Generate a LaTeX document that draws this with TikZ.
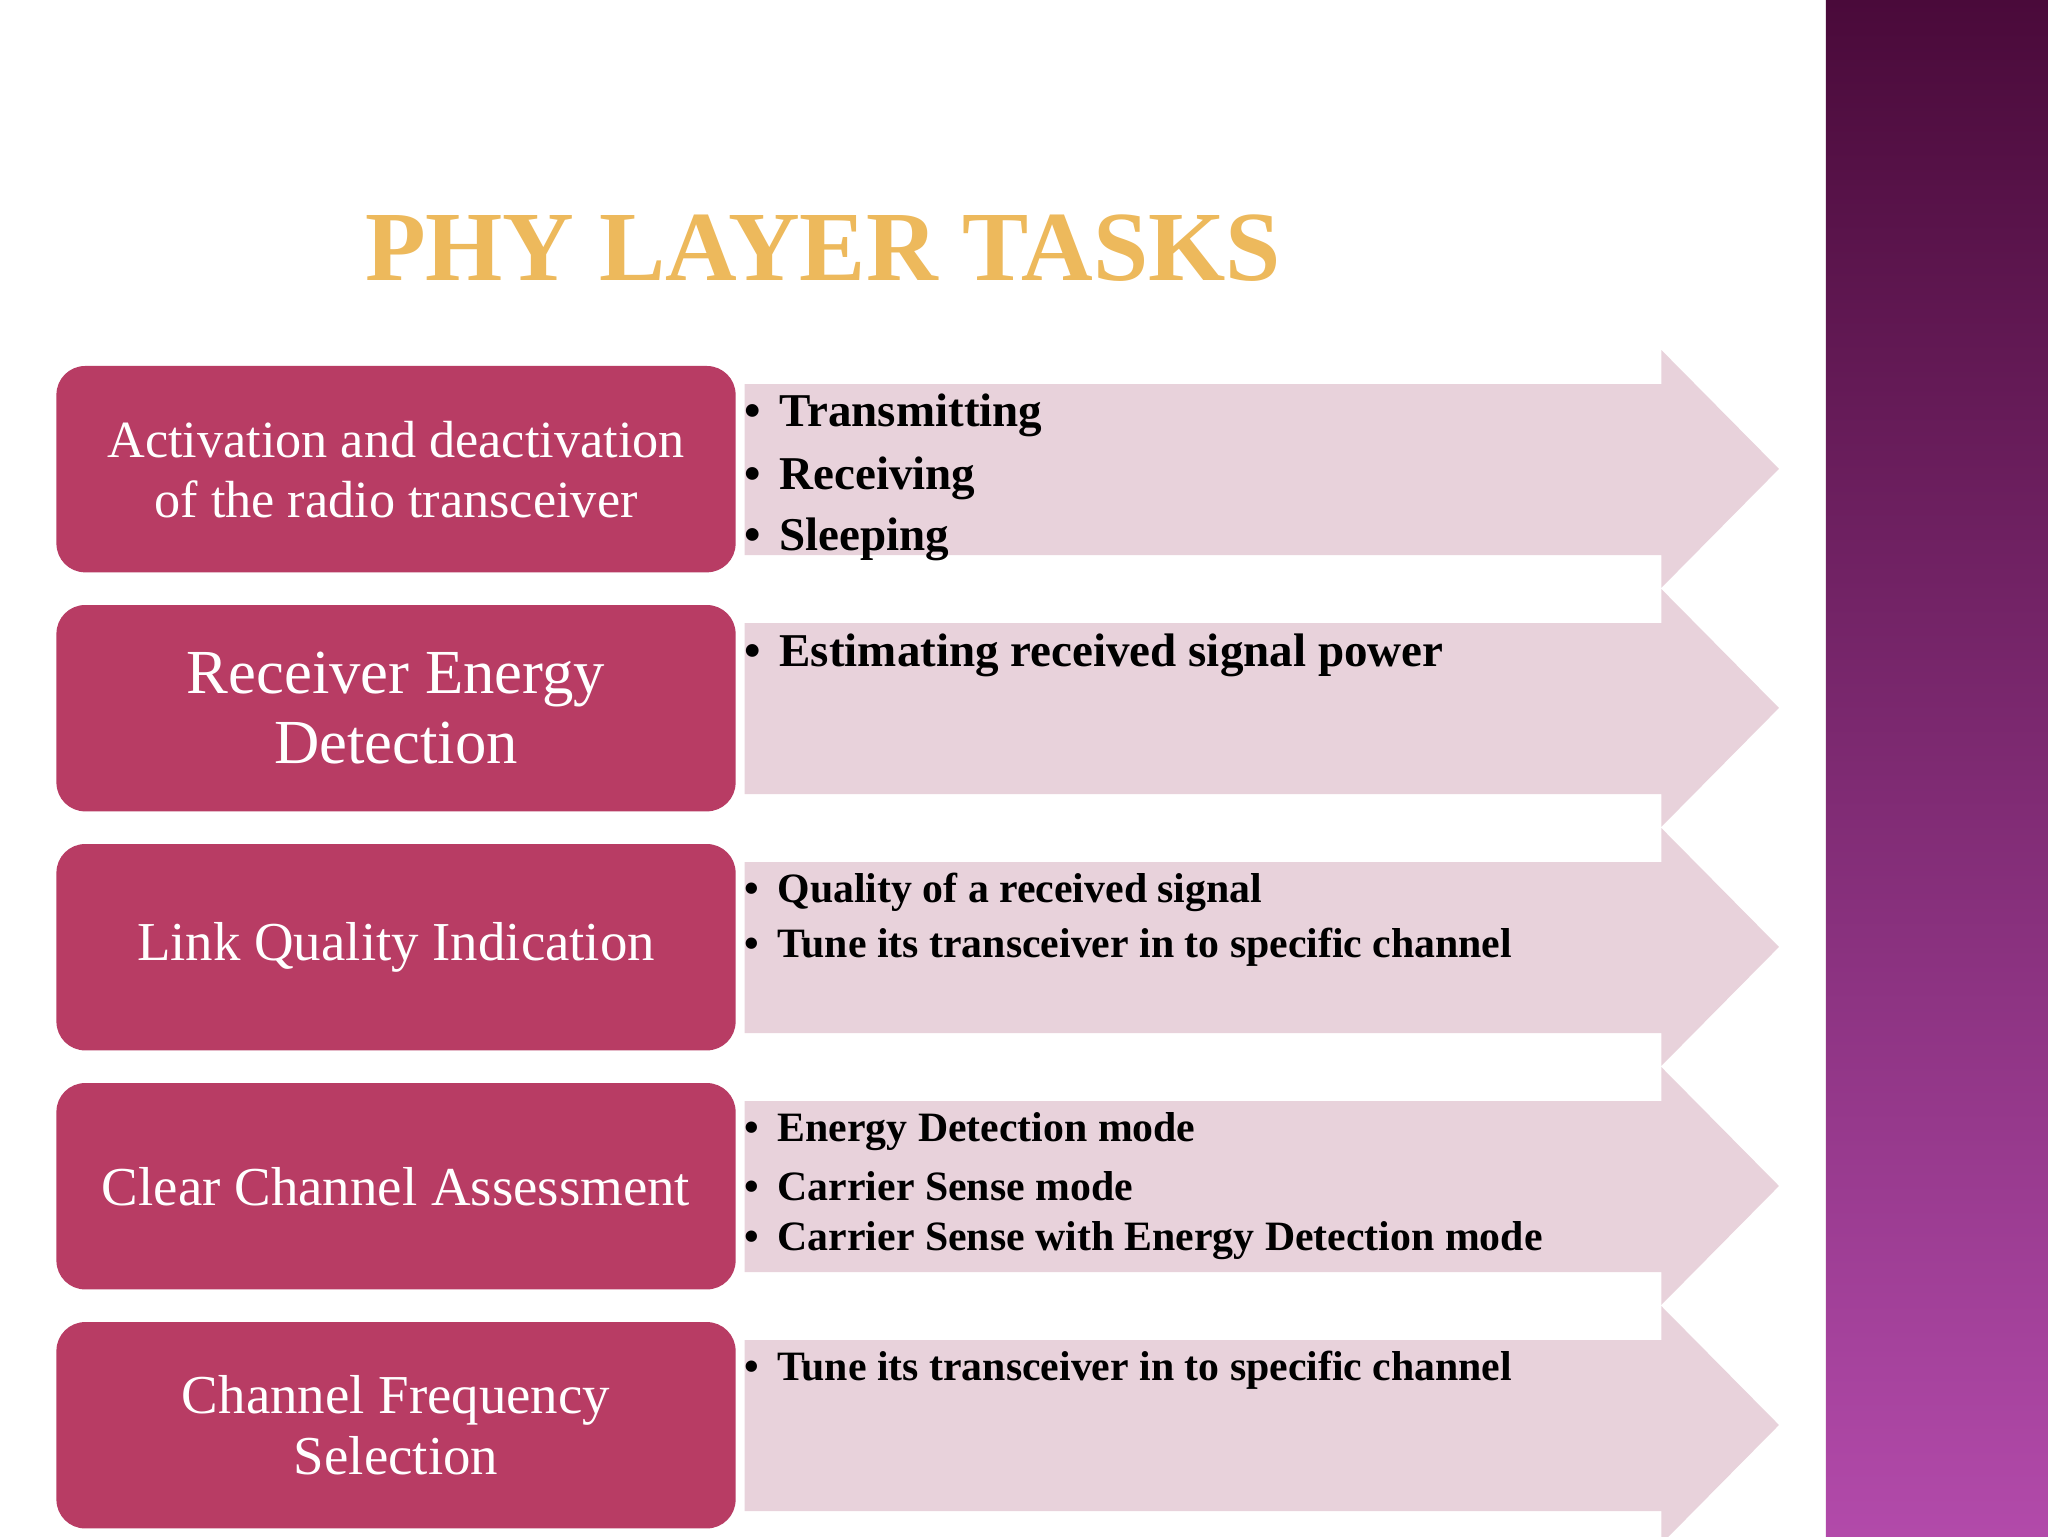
\documentclass[tikz,border=0pt]{standalone}
\usepackage{fontspec}
\setmainfont{Liberation Serif}
\usetikzlibrary{shadings}
\definecolor{boxc}{HTML}{B83C64}
\definecolor{arrc}{HTML}{E8D2DB}
\definecolor{purtop}{HTML}{4A0A3A}
\definecolor{purbot}{HTML}{B24AAA}
\definecolor{gold}{HTML}{EDB95C}
\tikzset{
 taskbox/.style={fill=boxc,rounded corners=22pt,minimum width=520pt,minimum height=158pt,anchor=north west,inner sep=0pt,text=white,align=center},
 bul/.style={anchor=west,inner sep=0pt},
}
\begin{document}
\begin{tikzpicture}[x=1pt,y=-1pt]
\useasboundingbox (0,0) rectangle (1568,1176);
\fill[white] (0,0) rectangle (1568,1176);
\shade[top color=purtop,bottom color=purbot] (1398,0) rectangle (1568,1176);
\node[font=\fontsize{76}{76}\selectfont\bfseries,text=gold] (title) at (630,190) {PHY LAYER TASKS};
\foreach \i/\t/\fs/\ls in {0/{Activation and deactivation\\of the radio transceiver}/40/46,1/{Receiver Energy\\Detection}/48/54,2/{Link Quality Indication}/42/48,3/{Clear Channel Assessment}/42/48,4/{Channel Frequency\\Selection}/42/46}{
 \pgfmathsetmacro{\yo}{280+183*\i}
 \fill[arrc] (570,\yo+14) -- (1272,\yo+14) -- (1272,\yo-12) -- (1362,\yo+79) -- (1272,\yo+170) -- (1272,\yo+145) -- (570,\yo+145) -- cycle;
 \node[taskbox,font=\fontsize{\fs}{\ls}\selectfont] (box\i) at (43,\yo) {\t};
}
\def\bl#1#2#3#4{\node[bul,font=\fontsize{#3}{#3}\selectfont\bfseries] (#1) at (570,#2) {\textbullet\hspace{14pt}#4};}
\bl{a1}{318}{36}{Transmitting}
\bl{a2}{366}{36}{Receiving}
\bl{a3}{413}{36}{Sleeping}
\bl{b1}{502}{36}{Estimating received signal power}
\bl{c1}{683}{32}{Quality of a received signal}
\bl{c2}{725}{32}{Tune its transceiver in to specific channel}
\bl{d1}{866}{32}{Energy Detection mode}
\bl{d2}{908}{32}{Carrier Sense mode}
\bl{d3}{950}{32}{Carrier Sense with Energy Detection mode}
\bl{e1}{1049}{32}{Tune its transceiver in to specific channel}
\end{tikzpicture}
\end{document}
